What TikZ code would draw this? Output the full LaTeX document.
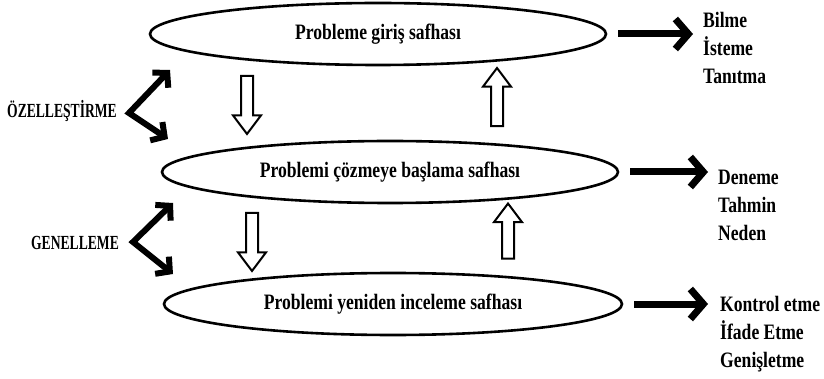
\documentclass[tikz,border=0pt]{standalone}
\usepackage{fontspec}
\setmainfont[FakeStretch=0.8]{Liberation Serif}
\newfontfamily\narrowserif[FakeStretch=0.68]{Liberation Serif}
\usetikzlibrary{shapes.geometric,shapes.arrows,arrows.meta}
\begin{document}
\begin{tikzpicture}[x=1pt,y=-1pt,
  phase/.style={ellipse,draw,line width=2.6pt,fill=white,minimum width=456pt,minimum height=62pt,inner sep=0pt,font=\fontsize{22}{22}\selectfont\bfseries},
  hollow/.style={single arrow,draw,line width=2pt,minimum width=0pt,minimum height=58pt,inner xsep=0pt,inner ysep=5pt,single arrow head extend=8pt,single arrow tip angle=74},
  outarrow/.style={line width=7pt,-{Straight Barb[length=13pt,width=30pt]}},
  chevron/.style={line width=6pt,{Straight Barb[length=10pt,width=22pt]}-{Straight Barb[length=10pt,width=22pt]}},
  steplist/.style={anchor=west,align=left,inner sep=0pt,font=\fontsize{22}{28}\selectfont\bfseries},
  sidelabel/.style={inner sep=0pt,font=\narrowserif\bfseries\fontsize{20}{20}\selectfont}]
\useasboundingbox (0,0) rectangle (824,379);

\node[phase] (giris) at (378,34) {Probleme giriş safhası};
\node[phase] (cozme) at (390,172) {Problemi çözmeye başlama safhası};
\node[phase,minimum width=458pt] (yeniden) at (393,304) {Problemi yeniden inceleme safhası};

\node[hollow,rotate=-90] (down1) at (247,101) {};
\node[hollow,rotate=90] (up1) at (497,101) {};
\node[hollow,rotate=-90] (down2) at (252,238) {};
\node[hollow,rotate=90,minimum height=55pt] (up2) at (508,235) {};

\node[steplist] (list1) at (703,48) {Bilme\\İsteme\\Tanıtma};
\node[steplist] (list2) at (718,205) {Deneme\\Tahmin\\Neden};
\node[steplist] (list3) at (720,334) {Kontrol etme\\İfade Etme\\Genişletme};

\draw[outarrow,shorten <=11pt,shorten >=10pt] (giris.east) -- (giris.east -| list1.west);
\draw[outarrow,shorten <=11pt,shorten >=10pt] (cozme.east) -- (cozme.east -| list2.west);
\draw[outarrow,shorten <=11pt,shorten >=12pt] (yeniden.east) -- (yeniden.east -| list3.west);

\node[sidelabel] (ozel) at (62,111) {ÖZELLEŞTİRME};
\node[sidelabel] (genel) at (75,243) {GENELLEME};

\coordinate (ozeltip) at (129,113);
\coordinate (ozelup) at (170,70);
\coordinate (ozeldown) at (168,139);
\coordinate (geneltip) at (133,242);
\coordinate (genelup) at (173,203);
\coordinate (geneldown) at (173,274);

\draw[chevron] (ozelup) -- (ozeltip) -- (ozeldown);
\draw[chevron] (genelup) -- (geneltip) -- (geneldown);
\end{tikzpicture}
\end{document}
